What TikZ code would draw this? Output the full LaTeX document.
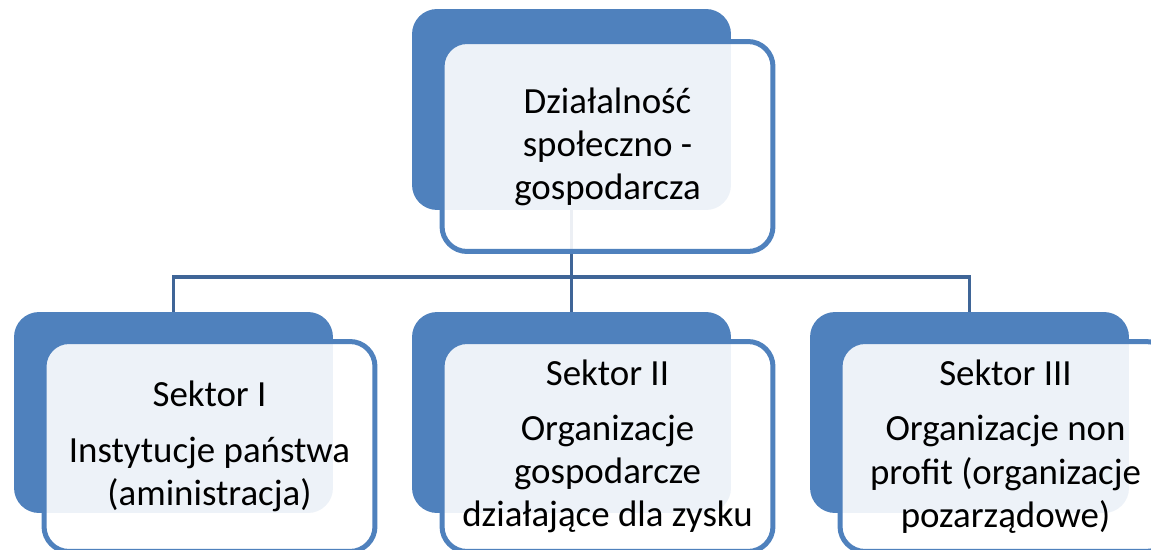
\documentclass[tikz,border=0pt]{standalone}
\usepackage{fontspec}
\setmainfont{Carlito}
\usetikzlibrary{positioning}
\definecolor{Accent}{HTML}{4F81BD}
\definecolor{LineBlue}{HTML}{3F6597}

\tikzset{
  tab/.style={fill=Accent, rounded corners=0.5cm, minimum width=6.38cm, minimum height=4.02cm},
  card/.style={draw=Accent, line width=0.1cm, fill=white, fill opacity=0.9, text opacity=1,
    rounded corners=0.5cm, minimum width=6.62cm, minimum height=4.2cm, align=center,
    font=\fontsize{21pt}{24.5pt}\selectfont},
  conn/.style={draw=LineBlue, line width=0.07cm}
}

\begin{document}
\begin{tikzpicture}[x=0.02cm,y=-0.02cm]
  \clip (0,0) rectangle (1151,550);
  % back tabs
  \node[tab] (dzialTab) at (571.5,109.5) {};
  \node[tab] (sek1Tab) at (173.5,412.5) {};
  \node[tab] (sek2Tab) at (571.5,412.5) {};
  \node[tab] (sek3Tab) at (969.5,412.5) {};
  % connectors
  \coordinate (bus) at (571.5,277);
  \draw[conn] (dzialTab.south) -- (sek2Tab.north);
  \draw[conn] (sek1Tab.north) |- (bus) -| (sek3Tab.north);
  % front cards
  \node[card] (dzialCard) at ([shift={(36,37)}]dzialTab.center) {Działalność\\ społeczno -\\ gospodarcza};
  \node[card] (sek1Card) at ([shift={(36,34)}]sek1Tab.center) {Sektor I\\[7pt] Instytucje państwa\\ (aministracja)};
  \node[card] (sek2Card) at ([shift={(36,34)}]sek2Tab.center) {Sektor II\\[7pt] Organizacje\\ gospodarcze\\ działające dla zysku};
  \node[card] (sek3Card) at ([shift={(36,34)}]sek3Tab.center) {Sektor III\\[7pt] Organizacje non\\ profit (organizacje\\ pozarządowe)};
\end{tikzpicture}
\end{document}
